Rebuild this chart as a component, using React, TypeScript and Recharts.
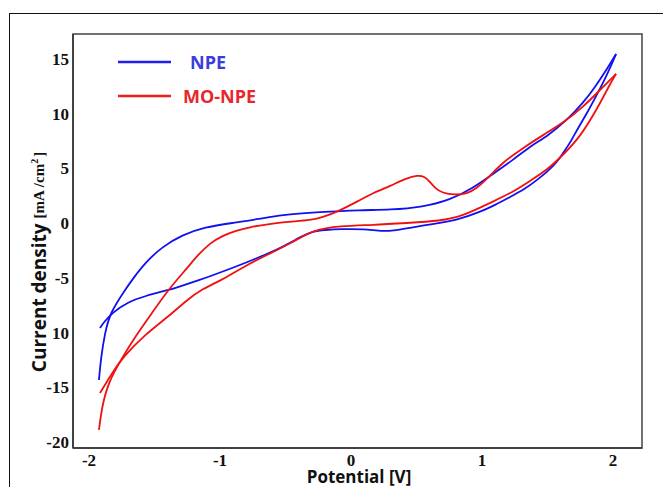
import { LineChart, Line, XAxis, YAxis, Legend, ReferenceArea } from 'recharts'

// NPE cyclic voltammogram (potential in V, current density in mA/cm2), in scan order
const npePotential = [
  -1.924, -1.908, -1.878, -1.84, -1.725, -1.672, -1.573, -1.443, -1.29, -1.115, -0.908,
  -0.695, -0.542, -0.237, 0.069, 0.298, 0.55, 0.756, 0.931, 1.061, 1.237, 1.366, 1.496,
  1.649, 1.771, 1.863, 1.954, 2.023,
  1.977, 1.924, 1.863, 1.802, 1.733, 1.672, 1.618, 1.573, 1.496, 1.42, 1.328, 1.214, 1.099,
  0.985, 0.809, 0.679, 0.473, 0.321, 0.206, 0.107, -0.084, -0.198, -0.29, -0.389, -0.519,
  -0.748, -0.947, -1.153, -1.344, -1.397, -1.573, -1.702, -1.824, -1.885, -1.916,
]
const npeCurrent = [
  -14.34, -12.24, -10.05, -8.22, -6.12, -5.21, -3.65, -2.19, -1.1, -0.37, 0,
  0.37, 0.73, 1.0, 1.19, 1.19, 1.46, 2.1, 3.2, 4.3, 5.75, 7.0, 7.9,
  9.4, 10.96, 12.42, 14.06, 15.43,
  14.16, 12.79, 11.42, 10.05, 8.68, 7.31, 6.39, 5.57, 4.66, 3.93, 3.11, 2.37, 1.64,
  1.0, 0.27, 0, -0.37, -0.73, -0.73, -0.55, -0.55, -0.64, -0.73, -1.28, -2.19,
  -3.38, -4.29, -5.21, -5.94, -6.12, -6.67, -7.21, -8.22, -9.04, -9.59,
]

// MO-NPE cyclic voltammogram
const moPotential = [
  -1.924, -1.901, -1.855, -1.748, -1.649, -1.519, -1.397, -1.244, -1.168, -1.076, -0.985,
  -0.885, -0.771, -0.649, -0.519, -0.29, -0.214, -0.107, 0.069, 0.168, 0.298, 0.427, 0.504,
  0.565, 0.603, 0.641, 0.695, 0.794, 0.885, 0.962, 1.038, 1.16, 1.313, 1.466, 1.618, 1.771,
  1.901, 2.023,
  1.977, 1.878, 1.748, 1.618, 1.496, 1.366, 1.237, 1.061, 0.855, 0.679, 0.427, 0.168, -0.084,
  -0.29, -0.443, -0.641, -0.824, -0.985, -1.137, -1.252, -1.397, -1.573, -1.74, -1.824, -1.916,
]
const moCurrent = [
  -18.9, -16.8, -14.61, -12.33, -10.41, -8.22, -6.12, -4.02, -2.92, -1.83, -1.19,
  -0.73, -0.37, -0.14, 0.09, 0.27, 0.55, 1.0, 2.1, 2.74, 3.38, 4.11, 4.35,
  4.25, 3.74, 3.2, 2.74, 2.56, 2.65, 3.2, 4.02, 5.57, 6.85, 8.04, 9.13, 10.59,
  12.15, 13.61,
  12.69, 10.41, 7.85, 6.21, 4.84, 3.84, 2.83, 1.83, 0.64, 0.18, 0, -0.18, -0.27,
  -0.64, -1.74, -2.92, -4.02, -5.21, -6.03, -7.03, -8.58, -10.2, -12.24, -13.7, -15.53,
]

const xTicks = [-2, -1, 0, 1, 2]
const yTicks = [-20, -15, -10, -5, 0, 5, 10, 15]
const yTickLabels = ['-20', '-15', '10', '-5', '0', '5', '10', '15']

const X_DOMAIN: [number, number] = [-2.122, 2.221]
const Y_DOMAIN: [number, number] = [-20.55, 17.26]

// split each loop at its anodic vertex so the tip stays sharp
function sweeps(xs: number[], ys: number[]) {
  const pts = xs.map((x, i) => ({ x, y: ys[i] }))
  const tip = ys.indexOf(Math.max(...ys))
  return [pts.slice(0, tip + 1), pts.slice(tip)]
}
const [npeFwd, npeBack] = sweeps(npePotential, npeCurrent)
const [moFwd, moBack] = sweeps(moPotential, moCurrent)

const SANS = '"Open Sans", sans-serif'
const SERIF = '"Liberation Serif", serif'
const tickFont = { fill: '#111', fontSize: 17, fontWeight: 700, fontFamily: SERIF }

function LegendBox() {
  const rows = [
    { name: 'NPE', line: '#1f1fe8', text: '#3d3ddb', pad: 19 },
    { name: 'MO-NPE', line: '#ee1c1c', text: '#e8262b', pad: 12 },
  ]
  return (
    <div style={{ fontFamily: SANS, fontWeight: 700, fontSize: 18 }}>
      {rows.map((r) => (
        <div key={r.name} style={{ display: 'flex', alignItems: 'center', height: 34 }}>
          <svg width={53} height={4}>
            <line x1={0} y1={2} x2={53} y2={2} stroke={r.line} strokeWidth={2.5} />
          </svg>
          <span style={{ color: r.text, paddingLeft: r.pad }}>{r.name}</span>
        </div>
      ))}
    </div>
  )
}

function YTitle() {
  return (
    <text transform="translate(46,262) rotate(-90)" textAnchor="middle" fill="#111">
      <tspan fontFamily={SANS} fontWeight={700} fontSize={19}>
        Current density
      </tspan>
      <tspan fontFamily={SERIF} fontWeight={700} fontSize={15} dx={5} dy={-2}>
        [mA /cm
      </tspan>
      <tspan fontFamily={SERIF} fontWeight={700} fontSize={10} dy={-6}>
        2
      </tspan>
      <tspan fontFamily={SERIF} fontWeight={700} fontSize={15} dx={2} dy={6}>
        ]
      </tspan>
    </text>
  )
}

function XTitle() {
  return (
    <text x={359} y={483} textAnchor="middle" fill="#111" fontFamily={SANS} fontWeight={700} fontSize={17}>
      Potential [V]
    </text>
  )
}

const lineProps = { type: 'basis' as const, strokeWidth: 1.8, dot: false, isAnimationActive: false, dataKey: 'y' }

export default function App() {
  return (
    <div style={{ position: 'absolute', left: 0, top: 0, width: 663, height: 487, background: '#fff' }}>
      {/* outer picture frame */}
      <div
        style={{
          position: 'absolute',
          left: 9,
          top: 13,
          right: 0,
          bottom: 0,
          borderLeft: '1.5px solid #111',
          borderTop: '1.5px solid #111',
        }}
      />
      <LineChart
        width={663}
        height={487}
        margin={{ top: 34, right: 21, left: 8, bottom: 0 }}
        style={{ position: 'absolute', left: 0, top: 0 }}
      >
        <XAxis
          type="number"
          dataKey="x"
          domain={X_DOMAIN}
          ticks={xTicks}
          allowDataOverflow
          height={39}
          tickLine={false}
          tickSize={4}
          tickMargin={2}
          axisLine={{ stroke: '#333', strokeWidth: 1.5 }}
          tick={tickFont}
          label={{ content: () => <XTitle /> }}
        />
        <YAxis
          type="number"
          dataKey="y"
          domain={Y_DOMAIN}
          ticks={yTicks}
          allowDataOverflow
          width={65}
          tickLine={false}
          tickSize={2}
          tickMargin={2}
          axisLine={{ stroke: '#333', strokeWidth: 1.5 }}
          tick={tickFont}
          tickFormatter={(v: number) => yTickLabels[yTicks.indexOf(v)] ?? String(v)}
          label={{ content: () => <YTitle /> }}
        />
        <ReferenceArea
          x1={X_DOMAIN[0]}
          x2={X_DOMAIN[1]}
          y1={Y_DOMAIN[0]}
          y2={Y_DOMAIN[1]}
          fill="none"
          stroke="#444"
          strokeWidth={1.5}
        />
        <Legend
          layout="horizontal"
          verticalAlign="middle"
          align="center"
          wrapperStyle={{ left: 118, top: 45, width: 180 }}
          content={() => <LegendBox />}
        />
        <Line name="NPE" data={npeFwd} stroke="#1010f0" {...lineProps} />
        <Line name="NPE return" data={npeBack} stroke="#1010f0" legendType="none" {...lineProps} />
        <Line name="MO-NPE" data={moFwd} stroke="#f01010" {...lineProps} />
        <Line name="MO-NPE return" data={moBack} stroke="#f01010" legendType="none" {...lineProps} />
      </LineChart>
    </div>
  )
}
